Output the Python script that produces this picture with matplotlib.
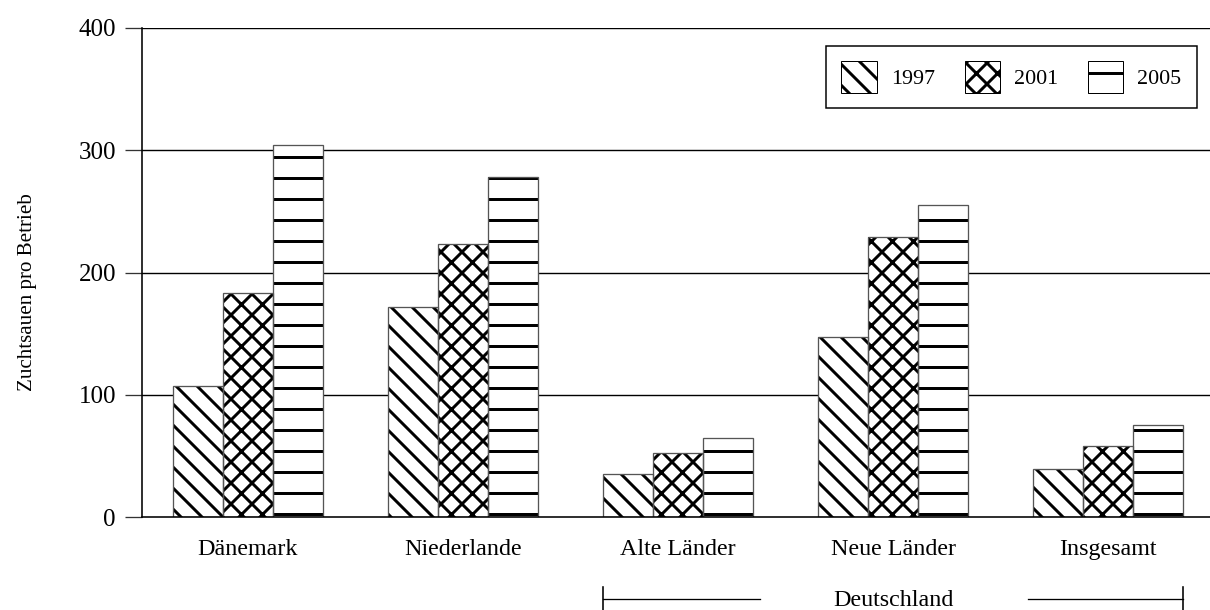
import matplotlib
matplotlib.use("Agg")
import matplotlib.pyplot as plt
import matplotlib.transforms as mtransforms
from matplotlib.patches import Patch
from matplotlib.lines import Line2D
import numpy as np

# ---- data ----
categories = ["Dänemark", "Niederlande", "Alte Länder", "Neue Länder", "Insgesamt"]
years = ["1997", "2001", "2005"]
values_1997 = [107, 172, 35, 147, 39]
values_2001 = [183, 223, 52, 229, 58]
values_2005 = [304, 278, 65, 255, 75]
yticks = [0, 100, 200, 300, 400]
ylabel = "Zuchtsauen pro Betrieb"
group_label = "Deutschland"

series = [values_1997, values_2001, values_2005]
hatches = ["\\\\", "xx", "-"]

DPI = 126
W, H = 1210, 610
plt.rcParams["font.family"] = ["Liberation Serif", "DejaVu Serif"]
plt.rcParams["hatch.linewidth"] = 1.7
plt.rcParams["hatch.color"] = "black"

fig = plt.figure(figsize=(W / DPI, H / DPI), dpi=DPI)
fig.patch.set_facecolor("white")

def px(v):  # pixels -> points
    return v * 72.0 / DPI

ax = fig.add_axes([142 / W, 1 - 517 / H, (W - 142) / W, (517 - 28) / H])
ax.set_facecolor("white")

x = np.arange(len(categories))
bw = 50 / 215.0
for i, (vals, h) in enumerate(zip(series, hatches)):
    pos = x + (i - 1) * bw
    ax.bar(pos, vals, width=bw, facecolor="white", edgecolor=None,
           linewidth=0, hatch=h, zorder=2)
    ax.bar(pos, vals, width=bw, fill=False, edgecolor="#555555",
           linewidth=px(1.3), zorder=3)

ax.set_xlim((142 - 248) / 215.0, (W - 248) / 215.0)
ax.set_ylim(0, 400)
ax.set_yticks(yticks)
ax.set_yticklabels([str(t) for t in yticks], fontsize=px(25))
ax.tick_params(axis="y", direction="out", length=px(17), width=px(1.3),
               color="#333333", pad=px(9))
ax.set_xticks(x)
ax.set_xticklabels(categories, fontsize=px(24))
ax.tick_params(axis="x", length=0, pad=px(22))

for t in yticks[1:]:
    ax.axhline(t, color="black", linewidth=px(1.4), zorder=1)

for s in ["top", "right"]:
    ax.spines[s].set_visible(False)
ax.spines["left"].set_linewidth(px(1.6))
ax.spines["bottom"].set_linewidth(px(1.6))
ax.spines["left"].set_zorder(4)
ax.spines["bottom"].set_zorder(4)

fig.text(28 / W, 1 - 292 / H, ylabel, rotation=90, ha="center", va="center",
         fontsize=px(21))

# legend
handles = [Patch(facecolor="white", edgecolor="black", linewidth=px(1),
                 hatch=h, label=y) for h, y in zip(hatches, years)]
leg = ax.legend(handles=handles, loc="upper right",
                bbox_to_anchor=(1197 / W, 1 - 46 / H),
                bbox_transform=fig.transFigure, ncol=3,
                fontsize=px(22), handlelength=1.6, handleheight=1.8,
                handletextpad=0.65, columnspacing=1.35, borderpad=0.7,
                borderaxespad=0,
                frameon=True, fancybox=False, framealpha=1,
                edgecolor="black")
leg.get_frame().set_linewidth(px(1.5))

# Deutschland bracket
trans = mtransforms.blended_transform_factory(ax.transData, fig.transFigure)
yb = 1 - 599 / H
left_end = 2 - 1.5 * bw
right_end = 4 + 1.5 * bw
for xa, xb in [(left_end, (760 - 248) / 215.0), ((1028 - 248) / 215.0, right_end)]:
    fig.add_artist(Line2D([xa, xb], [yb, yb], transform=trans, color="black",
                          linewidth=px(1.3)))
for xe in [left_end, right_end]:
    fig.add_artist(Line2D([xe, xe], [1 - 587 / H, 0], transform=trans,
                          color="black", linewidth=px(1.6)))
fig.text(3, 1 - 606 / H, group_label, transform=trans, ha="center",
         va="baseline", fontsize=px(24))

fig.savefig("out.png", dpi=DPI)
